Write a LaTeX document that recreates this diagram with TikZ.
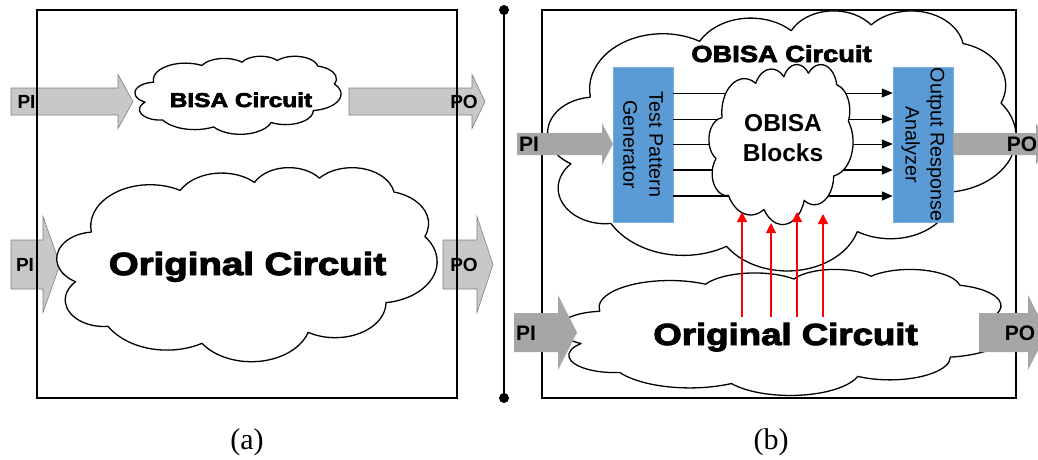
\documentclass[tikz,border=0pt]{standalone}
\usepackage{fontspec}
\setmainfont{Liberation Serif}
\newfontfamily\arial{Liberation Sans}
\newfontfamily\arialbf{Liberation Sans Bold}
\newfontfamily\heavy[FakeBold=3]{Liberation Sans Bold}
\usetikzlibrary{arrows.meta}

\definecolor{boxblue}{HTML}{5B9BD5}
\definecolor{lightfill}{HTML}{C8C8C8}
\definecolor{lightedge}{HTML}{7F7F7F}
\definecolor{darkfill}{HTML}{A6A6A6}

% block arrow: style, body start x, head start x, tip x, centre y, body half height, head half height
\newcommand{\blockarrow}[7]{%
  \path[#1] (#2,#5-#6) -- (#3,#5-#6) -- (#3,#5-#7) -- (#4,#5)
    -- (#3,#5+#7) -- (#3,#5+#6) -- (#2,#5+#6) -- cycle;}

% cloud outline in a 100 x 100 frame: node name, centre x, centre y, width, height
\newcommand{\cloudshape}[5]{%
  \node[cloudbox, minimum width=#4pt, minimum height=#5pt] (#1) at (#2,#3) {};
  \begin{scope}[shift={(#2,#3)}, x={#4pt/100}, y={-#5pt/100}, shift={(-50,-50)}]
    \path[cloudline] (9.028,33.264)
      arc[start angle=-187.745, delta angle=128.11, x radius=15.632, y radius=21.273]
      arc[start angle=-152.015, delta angle=106.56, x radius=12.345, y radius=16.822]
      arc[start angle=-153.495, delta angle=116.17, x radius=10.104, y radius=13.762]
      arc[start angle=-139.71,  delta angle=129.50, x radius=11.243, y radius=15.266]
      arc[start angle=-74.77,   delta angle=97.98,  x radius=12.345, y radius=16.836]
      arc[start angle=-37.52,   delta angle=119.38, x radius=15.683, y radius=21.343]
      arc[start angle=0.4596,   delta angle=121.52, x radius=13.391, y radius=18.211]
      arc[start angle=16.845,   delta angle=129.385,x radius=15.630, y radius=21.331]
      arc[start angle=58.99,    delta angle=91.21,  x radius=17.870, y radius=24.405]
      arc[start angle=-276.694, delta angle=139.80, x radius=10.093, y radius=13.699]
      arc[start angle=-239.65,  delta angle=143.76, x radius=10.058, y radius=13.762]
      -- cycle;
  \end{scope}}

\tikzset{
  frame/.style={draw=black, line width=1.6pt},
  cloudbox/.style={inner sep=0pt, outer sep=0pt},
  cloudline/.style={draw=black, line width=1.3pt, fill=white, line join=round},
  lightarrow/.style={fill=lightfill, draw=lightedge, line width=0.6pt},
  darkarrow/.style={fill=darkfill},
  bluebox/.style={fill=boxblue, draw=boxblue!80!white, line width=0.5pt, inner sep=0pt},
  flow/.style={draw=black, line width=1pt, -{Triangle[length=11pt,width=9pt]}},
  flowthick/.style={flow, line width=1.6pt},
  probe/.style={draw=red, line width=1.2pt, -{Triangle[length=10pt,width=10pt]}},
  heavytext/.style={anchor=base, inner sep=0pt},
  portlabel/.style={font=\arialbf\fontsize{19}{22}\selectfont, inner sep=0pt},
  portlabelB/.style={font=\arialbf\fontsize{21}{24}\selectfont, inner sep=0pt},
  caption/.style={font=\fontsize{30}{34}\selectfont, anchor=base, inner sep=0pt}
}

\begin{document}
\begin{tikzpicture}[x=1pt,y=-1pt]
\useasboundingbox (0,0) rectangle (1038,459);

% ---------------- panel (a) ----------------
\blockarrow{lightarrow}{11}{118}{133}{101.5}{13.5}{27}
\blockarrow{lightarrow}{349}{472}{485}{101.5}{13.5}{27}
\blockarrow{lightarrow}{11}{43}{60}{264.5}{24.5}{48}
\blockarrow{lightarrow}{443}{477}{493}{264.5}{24.5}{48}

\cloudshape{bisa}{238}{95}{206}{78}
\cloudshape{origA}{247}{264}{380}{194}

\draw[frame] (37,10) rectangle (457,398);

\node[heavytext, font={\heavy\fontsize{20}{24}\selectfont}, xscale=1.22] (bisaT) at (241,107) {BISA Circuit};
\node[heavytext, font={\heavy\fontsize{32}{38}\selectfont}, xscale=1.2] (origAT) at (247.5,275) {Original Circuit};

\node[portlabel] (piA1) at (26.5,102) {PI};
\node[portlabel] (poA1) at (464,102) {PO};
\node[portlabel] (piA2) at (25,265) {PI};
\node[portlabel] (poA2) at (464,265) {PO};

% ---------------- separator ----------------
\coordinate (sepTop) at (504,10);
\coordinate (sepBot) at (504,398);
\draw[line width=2.2pt] (sepTop) -- (sepBot);
\fill (sepTop) circle (5pt);
\fill (sepBot) circle (5pt);

% ---------------- panel (b) ----------------
\draw[frame] (542,10) rectangle (1016,398);

\cloudshape{origB}{785}{332}{452}{126}
\cloudshape{obisa}{782}{140}{468}{260}

\node[bluebox, minimum width=60pt, minimum height=155pt] (tpg) at (643,144.5) {};
\node[bluebox, minimum width=60pt, minimum height=155pt] (ora) at (923,144.5) {};

% test vectors from the generator to the analyzer
\foreach \yy/\sty in {93/flow,119/flow,144/flow,170/flowthick,196/flowthick}{
  \coordinate (row) at (0,\yy);
  \draw[\sty] (tpg.east |- row) -- (ora.west |- row);
}

\cloudshape{blocks}{781}{144}{144}{160}

% taps from the original circuit into the OBISA blocks
\coordinate (t1s) at (742,317); \coordinate (t1e) at (742,212);
\coordinate (t2s) at (771,317); \coordinate (t2e) at (771,223);
\coordinate (t3s) at (797,317); \coordinate (t3e) at (797,212);
\coordinate (t4s) at (823,317); \coordinate (t4e) at (823,214);
\draw[probe] (t1s) -- (t1e);
\draw[probe] (t2s) -- (t2e);
\draw[probe] (t3s) -- (t3e);
\draw[probe, line width=1.6pt] (t4s) -- (t4e);

\blockarrow{darkarrow}{517}{602}{613}{144}{11}{21}
\blockarrow{darkarrow}{953}{1036}{1047}{144}{11}{21}
\blockarrow{darkarrow}{514}{558}{577}{332.5}{19.5}{37.5}
\blockarrow{darkarrow}{979}{1028}{1047}{332.5}{19.5}{37.5}

\node[heavytext, font={\heavy\fontsize{23.3}{28}\selectfont}, xscale=1.17] (obisaT) at (781.5,62) {OBISA Circuit};
\node[heavytext, font={\heavy\fontsize{30.5}{36}\selectfont}, xscale=1.2] (origBT) at (785.5,345) {Original Circuit};

\node[rotate=-90, align=center, inner sep=0pt, font={\arial\fontsize{19.7}{26}\selectfont}] (tpgT) at (tpg.center) {Test Pattern\\Generator};
\node[rotate=-90, align=center, inner sep=0pt, font={\arial\fontsize{19.7}{25}\selectfont}] (oraT) at (ora.center) {Output Response\\Analyzer};

\node[heavytext, font={\arialbf\fontsize{24.5}{30}\selectfont}] (blkT1) at (783,131.7) {OBISA};
\node[heavytext, font={\arialbf\fontsize{24.5}{30}\selectfont}] (blkT2) at (783,161.7) {Blocks};

\node[portlabelB] (piB1) at (529,144) {PI};
\node[portlabelB] (poB1) at (1022,144) {PO};
\node[portlabelB] (piB2) at (526,333) {PI};
\node[portlabelB] (poB2) at (1020,333) {PO};

% ---------------- captions ----------------
\node[caption] (capA) at (247,449) {(a)};
\node[caption] (capB) at (771,449) {(b)};
\end{tikzpicture}
\end{document}
